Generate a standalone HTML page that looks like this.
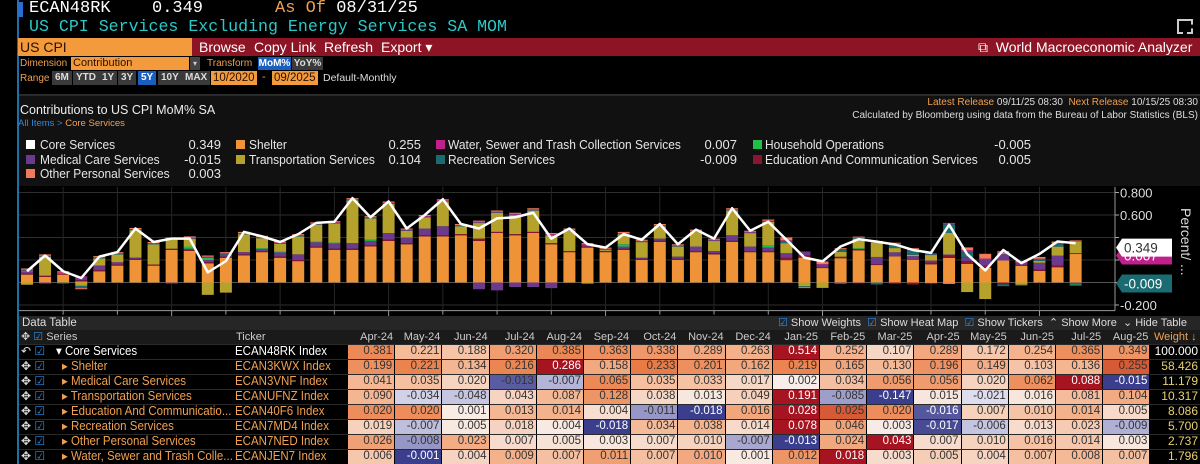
<!DOCTYPE html>
<html><head><meta charset="utf-8">
<style>
*{margin:0;padding:0;box-sizing:border-box}
body{width:1200px;height:464px;background:#000;overflow:hidden;position:relative;font-family:"Liberation Sans",sans-serif;color:#ddd}
.a{position:absolute;white-space:nowrap}
.mono{font-family:"Liberation Mono",monospace}
.btn{position:absolute;top:38px;height:18px;background:#8c1424;color:#fff;font-size:14px;line-height:18px;padding:0 4px}
.sm{font-size:10px;line-height:13px}
.rb{position:absolute;top:71px;height:14px;background:#3a3a3a;color:#ddd;font-size:10px;line-height:14px;padding:0 3px;font-weight:bold}
.lg{position:absolute;font-size:13px;line-height:15px;color:#e6e6e6}
.nar{transform:scaleX(0.92);transform-origin:left center}
.sq{position:absolute;width:9px;height:9px}
</style></head><body>
<div class="a" style="left:17px;top:0;width:2px;height:464px;background:#1d6fa8"></div>
<div class="a" style="left:17px;top:2px;width:6px;height:15px;background:#2a6fd0"></div>
<div class="a mono" style="left:29px;top:-1px;font-size:17px;color:#fff">ECAN48RK</div>
<div class="a mono" style="left:152px;top:-1px;font-size:17px;color:#fff">0.349</div>
<div class="a mono" style="left:275px;top:-1px;font-size:17px;color:#f0a050">As Of <span style="color:#fff">08/31/25</span></div>
<div class="a mono" style="left:29px;top:17px;font-size:16.6px;color:#2cc8c8">US CPI Services Excluding Energy Services SA MOM</div>
<div class="a" style="left:1177px;top:19px;width:16px;height:15px;border:2px solid #ccc;border-right-style:dashed;border-bottom-style:dashed"></div>

<div class="a" style="left:192px;top:38px;width:1008px;height:18px;background:#8c1424"></div>
<div class="a" style="left:18px;top:38px;width:174px;height:18px;background:#f29a3c;color:#2a1000;font-size:14px;line-height:18px;padding-left:2px">US CPI</div>
<div class="btn" style="left:195px">Browse</div>
<div class="btn" style="left:250px">Copy Link</div>
<div class="btn" style="left:320px">Refresh</div>
<div class="btn" style="left:377px">Export ▾</div>
<div class="a" style="left:978px;top:38px;color:#fff;font-size:14px;line-height:18px">⧉&nbsp; World Macroeconomic Analyzer</div>

<div class="a sm" style="left:20px;top:57px;color:#f0a050">Dimension</div>
<div class="a sm" style="left:71px;top:57px;width:118px;height:13px;background:#f29a3c;color:#2a1000;padding-left:2px;font-size:11px">Contribution</div>
<div class="a sm" style="left:190px;top:57px;width:10px;height:13px;background:#444;color:#ccc;text-align:center;font-size:8px">▾</div>
<div class="a sm" style="left:207px;top:57px;color:#f0a050">Transform</div>
<div class="a sm" style="left:258px;top:57px;width:33px;height:13px;background:#1a5fc0;color:#fff;text-align:center;font-weight:bold">MoM%</div>
<div class="a sm" style="left:292px;top:57px;width:31px;height:13px;background:#3a3a3a;color:#ddd;text-align:center;font-weight:bold">YoY%</div>

<div class="a sm" style="left:20px;top:72px;color:#f0a050">Range</div>
<div class="rb" style="left:52px">6M</div>
<div class="rb" style="left:73px">YTD</div>
<div class="rb" style="left:99px">1Y</div>
<div class="rb" style="left:118px">3Y</div>
<div class="rb" style="left:138px;background:#1a5fc0;color:#fff">5Y</div>
<div class="rb" style="left:158px">10Y</div>
<div class="rb" style="left:182px">MAX</div>
<div class="a" style="left:211px;top:71px;width:46px;height:14px;background:#f29a3c;color:#2a1000;font-size:11.5px;line-height:14px;padding-left:2px">10/2020</div>
<div class="a" style="left:262px;top:71px;color:#f0a050;font-size:11px">-</div>
<div class="a" style="left:272px;top:71px;width:46px;height:14px;background:#f29a3c;color:#2a1000;font-size:11.5px;line-height:14px;padding-left:2px">09/2025</div>
<div class="a" style="left:323px;top:72px;color:#ddd;font-size:10.5px">Default-Monthly</div>

<div class="a" style="left:19px;top:96px;width:1181px;height:90px;background:#111"></div>
<div class="a" style="left:19px;top:94px;width:1181px;height:2px;background:#2a2a2a"></div>
<div class="a" style="left:20px;top:103px;font-size:12.5px;color:#eee">Contributions to US CPI MoM% SA</div>
<div class="a" style="left:18px;top:118px;font-size:9.5px;color:#2a8ae0">All Items &gt; <span style="color:#f0a050">Core Services</span></div>
<div class="a" style="right:2px;top:97px;font-size:10px;color:#ddd"><span style="color:#f0a050">Latest Release</span> 09/11/25 08:30 &nbsp;<span style="color:#f0a050">Next Release</span> 10/15/25 08:30</div>
<div class="a" style="right:2px;top:110px;font-size:10px;color:#ddd">Calculated by Bloomberg using data from the Bureau of Labor Statistics (BLS)</div>

<div id="legend"></div>
<svg id="chart" class="a" style="left:0;top:186px" width="1200" height="130"></svg>
<div id="tbl"></div>

<script>
const months=["Oct-20","Nov-20","Dec-20","Jan-21","Feb-21","Mar-21","Apr-21","May-21","Jun-21","Jul-21","Aug-21","Sep-21","Oct-21","Nov-21","Dec-21","Jan-22","Feb-22","Mar-22","Apr-22","May-22","Jun-22","Jul-22","Aug-22","Sep-22","Oct-22","Nov-22","Dec-22","Jan-23","Feb-23","Mar-23","Apr-23","May-23","Jun-23","Jul-23","Aug-23","Sep-23","Oct-23","Nov-23","Dec-23","Jan-24","Feb-24","Mar-24","Apr-24","May-24","Jun-24","Jul-24","Aug-24","Sep-24","Oct-24","Nov-24","Dec-24","Jan-25","Feb-25","Mar-25","Apr-25","May-25","Jun-25","Jul-25","Aug-25"];
const core=[0.10,0.24,0.10,0.04,0.23,0.27,0.48,0.36,0.39,0.39,0.09,0.19,0.45,0.41,0.36,0.43,0.53,0.54,0.75,0.58,0.72,0.48,0.60,0.74,0.52,0.48,0.57,0.58,0.62,0.39,0.48,0.34,0.31,0.43,0.38,0.52,0.34,0.47,0.39,0.66,0.46,0.54,0.381,0.221,0.188,0.320,0.385,0.363,0.338,0.289,0.263,0.514,0.252,0.107,0.289,0.172,0.254,0.365,0.349];
const shelter=[0.07,0.05,0.07,0.01,0.10,0.15,0.20,0.15,0.29,0.28,0.17,0.22,0.24,0.27,0.22,0.19,0.31,0.29,0.29,0.32,0.37,0.34,0.41,0.41,0.42,0.37,0.44,0.42,0.44,0.34,0.27,0.31,0.27,0.29,0.20,0.36,0.20,0.27,0.25,0.36,0.27,0.27,0.199,0.221,0.134,0.216,0.286,0.158,0.233,0.201,0.162,0.219,0.165,0.130,0.196,0.149,0.103,0.136,0.255];
const medical=[0.02,-0.01,0.00,0.03,0.04,0.02,0.01,0.00,-0.01,0.01,0.02,0.02,0.02,0.02,0.04,0.05,0.04,0.05,0.05,0.04,0.06,0.05,0.06,0.08,0.00,-0.06,-0.07,-0.04,-0.04,-0.05,0.00,0.01,0.00,0.02,0.01,0.02,0.02,0.04,0.02,0.05,0.04,0.03,0.041,0.035,0.020,-0.013,-0.007,0.065,0.035,0.033,0.017,0.002,0.034,0.056,0.056,0.020,0.062,0.088,-0.015];
const transport=[-0.02,0.17,0.00,-0.03,0.06,0.07,0.24,0.18,0.08,0.07,-0.11,-0.09,0.16,0.09,0.07,0.16,0.15,0.17,0.38,0.19,0.26,0.06,0.10,0.22,0.07,0.14,0.17,0.17,0.19,0.07,0.18,-0.01,0.01,0.09,0.14,0.11,0.09,0.13,0.09,0.22,0.12,0.21,0.090,-0.034,-0.048,0.043,0.087,0.128,0.038,0.013,0.049,0.191,-0.085,-0.147,0.015,-0.021,0.016,0.081,0.104];
const education=[0.01,0.01,0.01,0.01,0.01,0.01,0.01,0.01,0.01,0.01,0.01,0.01,0.01,0.01,0.01,0.01,0.01,0.01,0.01,0.01,0.01,0.01,0.01,0.01,0.01,0.02,0.01,0.01,0.01,0.01,0.01,0.01,0.01,0.01,0.01,0.01,0.01,0.01,0.01,0.01,0.01,0.01,0.020,0.020,0.001,0.013,0.014,0.004,-0.011,-0.018,0.016,0.028,0.025,0.020,-0.016,0.007,0.010,0.014,0.005];
const recreation=[0.005,0.005,-0.01,-0.02,0.005,0.005,0.005,0.005,0.005,0.005,0.005,0.005,0.005,0.005,0.005,0.005,0.005,0.005,0.005,0.005,0.005,0.005,0.005,0.005,0.005,0.005,0.005,0.005,0.005,0.005,0.005,0.005,0.005,0.005,0.005,0.005,0.005,0.005,0.005,0.005,0.005,0.005,0.019,-0.007,0.005,0.018,0.004,-0.018,0.034,0.038,0.014,0.078,0.046,0.003,-0.017,-0.006,0.013,0.023,-0.009];
const otherPersonal=[0.01,0.01,0.01,-0.01,0.01,0.01,0.01,0.01,0.01,0.01,0.01,0.01,0.01,0.01,0.01,0.01,0.01,0.01,0.01,0.01,0.01,0.01,0.01,0.01,0.01,0.01,0.01,0.01,0.01,0.01,0.01,0.01,0.01,0.01,0.01,0.01,0.01,0.01,0.01,0.01,0.01,0.01,0.026,-0.008,0.023,0.007,0.005,0.003,0.007,0.010,-0.007,-0.013,0.024,0.043,0.007,0.010,0.016,0.014,0.003];
const water=[0.005,0.005,0.005,0.005,0.005,0.005,0.005,0.005,0.005,0.005,0.005,0.005,0.005,0.005,0.005,0.005,0.005,0.005,0.005,0.005,0.005,0.005,0.005,0.005,0.005,0.005,0.005,0.005,0.005,0.005,0.005,0.005,0.005,0.005,0.005,0.005,0.005,0.005,0.005,0.005,0.005,0.005,0.006,-0.001,0.004,0.009,0.007,0.011,0.007,0.010,0.001,0.012,0.018,0.003,0.005,0.004,0.007,0.008,0.007];
const household=[0.005,0.0,0.005,0.0,0.005,0.0,0.005,0.0,0.0,0.02,0.02,0.0,0.0,0.005,0.005,0.0,0.005,0.005,0.0,0.01,0.0,0.0,0.0,0.0,0.0,0.0,0.0,0.0,0.0,0.0,0.0,0.0,0.0,0.02,0.0,0.0,0.0,0.0,0.0,0.0,0.0,0.02,0.0,0.0,0.0,0.0,0.005,0.0,0.0,0.0,0.0,0.0,0.0,0.0,0.0,0.0,0.0,0.0,-0.005];
const yTicks=[0.8,0.6,0.4,0.2,0,-0.2];
const yTickLabels=["0.800","0.600","","","","-0.200"];
const years=["2020","2021","2022","2023","2024","2025"];
const yearIdx=[0.7,8,20,32,44,56];

const NS="http://www.w3.org/2000/svg";
const svg=document.getElementById('chart');
const OY=186;
function xs(i){return 27+i*18.08;}
function ys(v){return 282.5-OY-v*112.5;}
function mk(tag,attrs,parent){const e=document.createElementNS(NS,tag);for(const k in attrs)e.setAttribute(k,attrs[k]);(parent||svg).appendChild(e);return e;}
yTicks.forEach((t,k)=>{
  const gl=mk('line',{x1:19,x2:1115,y1:ys(t),y2:ys(t),stroke:t===0?'#555':'#2e2e2e','stroke-width':1});
  
  
  mk('line',{x1:1115,x2:1119,y1:ys(t),y2:ys(t),stroke:'#aaa'});
  if(yTickLabels[k]){const tx=mk('text',{x:1120,y:ys(t)+5,fill:'#ddd','font-size':13,'font-family':'Liberation Sans'});tx.textContent=yTickLabels[k];
  
  }
});
for(let i=2;i<months.length;i+=3){
  const vl=mk('line',{x1:xs(i),x2:xs(i),y1:ys(0.85),y2:ys(-0.25),stroke:'#262626'});
  
  
  const isY=yearIdx.indexOf(i)>=0;
  mk('line',{x1:xs(i),x2:xs(i),y1:ys(-0.25),y2:ys(-0.25)+(isY?8:4),stroke:'#999'});
}
mk('line',{x1:19,x2:1115,y1:ys(-0.25),y2:ys(-0.25),stroke:'#999'});
mk('line',{x1:1115,x2:1115,y1:ys(0.85),y2:ys(-0.25),stroke:'#999'});
years.forEach((y,k)=>{const tx=mk('text',{x:xs(yearIdx[k]),y:ys(-0.25)+18,fill:'#ccc','font-size':13,'text-anchor':'middle','font-family':'Liberation Sans'});tx.textContent=y;
  
  });
const series=[[shelter,'#ee9338','shelter'],[education,'#8a1530','education'],[medical,'#6b3a8c','medical-care'],[household,'#1fc04a','household-operations'],[transport,'#b4a22c','transportation'],[recreation,'#1a6b72','recreation'],[water,'#c0208c','water-sewer-trash'],[otherPersonal,'#f07a5a','other-personal']];
months.forEach((m,i)=>{
  let pos=0,neg=0;
  series.forEach(s=>{
    const v=s[0][i];if(!v)return;
    let y0,y1;
    if(v>0){y0=ys(pos+v);y1=ys(pos);pos+=v;}else{y0=ys(neg);y1=ys(neg+v);neg+=v;}
    const r=mk('rect',{x:xs(i)-6,y:y0,width:12,height:Math.max(0.8,y1-y0),fill:s[1]});
    
    
  });
});
const pts=core.map((v,i)=>xs(i)+','+ys(v)).join(' ');
const line=mk('polyline',{points:pts,fill:'none',stroke:'#fff','stroke-width':2.5,'stroke-linejoin':'round'});


function tag(v,bg,fg,label,name){
  const y=ys(v);
  const p=mk('path',{d:`M1116 ${y} l6 -9 h50 v18 h-50 z`,fill:bg});
  
  
  const t=mk('text',{x:1124,y:y+5,fill:fg,'font-size':13.5,'font-family':'Liberation Sans'});t.textContent=label;
}
tag(0.24,'#c0208c','#fff','0.007','water-value-tag');
tag(0.31,'#fff','#333','0.349','core-value-tag');
tag(-0.009,'#1a6b72','#fff','-0.009','recreation-value-tag');
const pt=mk('text',{transform:'translate(1181,22) rotate(90)',fill:'#ddd','font-size':14,'font-family':'Liberation Sans'});pt.textContent='Percent/ ...';



const legNames=["Core Services","Shelter","Water, Sewer and Trash Collection Services","Household Operations","Medical Care Services","Transportation Services","Recreation Services","Education And Communication Services","Other Personal Services"];
const legVals=["0.349","0.255","0.007","-0.005","-0.015","0.104","-0.009","0.005","0.003"];
const legColors=["#fff","#ee9338","#c0208c","#1fc04a","#6b3a8c","#b4a22c","#1a6b72","#8a1530","#f07a5a"];
const colX=[[26,40,221],[236,249,421],[436,448,737],[753,765,1031]];
const L=document.getElementById('legend');
legNames.forEach((n,k)=>{
  const c=colX[k%4],r=Math.floor(k/4),y=137+r*14.7;
  const d=document.createElement('div');
  
  
  d.innerHTML=`<div class="sq" style="left:${c[0]}px;top:${y+3}px;background:${legColors[k]}"></div><div class="lg nar" style="left:${c[1]}px;top:${y}px">${n}</div><div class="lg" style="left:${c[2]-60}px;width:60px;text-align:right;top:${y}px">${legVals[k]}</div>`;
  L.appendChild(d);
});

const tMonths=months.slice(42);
const rowNames=["Core Services","Shelter","Medical Care Services","Transportation Services","Education And Communicatio...","Recreation Services","Other Personal Services","Water, Sewer and Trash Colle..."];
const tickers=["ECAN48RK Index","ECAN3KWX Index","ECAN3VNF Index","ECANUFNZ Index","ECAN40F6 Index","ECAN7MD4 Index","ECAN7NED Index","ECANJEN7 Index"];
const weights=["100.000","58.426","11.179","10.317","8.086","5.700","2.737","1.796"];
const rowData=[core,shelter,medical,transport,education,recreation,otherPersonal,water].map(a=>a.slice(42));
function lerp(a,b,t){return a.map((x,i)=>Math.round(x+(b[i]-x)*t));}
function heat(v,mx,mn){
  if(v>=0){const t=mx>0?v/mx:0;
    if(t<0.5)return lerp([248,240,236],[244,178,140],t/0.5);
    if(t<0.85)return lerp([244,178,140],[232,118,62],(t-0.5)/0.35);
    return lerp([232,118,62],[165,20,32],(t-0.85)/0.15);}
  const t=mn<0?v/mn:0;
  if(t<0.5)return lerp([240,238,246],[176,176,214],t/0.5);
  return lerp([176,176,214],[58,62,140],(t-0.5)/0.5);
}
const T=document.getElementById('tbl');
let h=`<div class="a" style="left:19px;top:316px;width:1181px;height:14px;background:#262626"></div>
<div class="a" style="left:22px;top:316px;font-size:11.5px;color:#ddd;line-height:14px">Data Table</div>
<div class="a" style="left:778px;top:316px;font-size:11px;color:#ddd;line-height:14px"><span style="color:#2a8ae0">☑</span> Show Weights &nbsp;<span style="color:#2a8ae0">☑</span> Show Heat Map &nbsp;<span style="color:#2a8ae0">☑</span> Show Tickers &nbsp;⌃ Show More &nbsp;⌄ Hide Table</div>
<div class="a" style="left:19px;top:330px;width:1181px;height:14px;background:#1a1a1a"></div>
<div class="a" style="left:21px;top:330px;font-size:11px;color:#ccc;line-height:14px">✥ <span style="color:#2a8ae0">☑</span> Series</div>
<div class="a" style="left:236px;top:330px;font-size:11px;color:#ccc;line-height:14px">Ticker</div>
<div class="a" style="left:1154px;top:330px;font-size:11px;color:#f0a050;line-height:14px">Weight ↓</div>`;
const cx0=348,cw=47.2;
tMonths.forEach((m,j)=>{h+=`<div class="a" style="left:${cx0+j*cw}px;top:330px;width:${cw-2}px;text-align:right;font-size:11px;color:#ccc;line-height:14px">${m}</div>`;});
rowData.forEach((arr,r)=>{
  const y=344+r*15;
  const mx=Math.max(...arr),mn=Math.min(...arr);
  h+=`<div class="a" style="left:19px;top:${y}px;width:1181px;height:15px;border-top:1px solid #2a2a2a"></div>`;
  h+=`<div class="a" style="left:21px;top:${y}px;font-size:12px;color:#ddd;line-height:15px">${r===0?'↶':'✥'} <span style="color:#2a8ae0">☑</span></div>`;
  h+=`<div class="a nar" style="left:${r===0?56:62}px;top:${y}px;font-size:12.5px;color:${r===0?'#fff':'#f0a050'};line-height:15px">${r===0?'▾ ':'▸ '}${rowNames[r]}</div>`;
  h+=`<div class="a nar" style="left:235px;top:${y}px;font-size:12.5px;color:${r===0?'#fff':'#f0a050'};line-height:15px">${tickers[r]}</div>`;
  arr.forEach((v,j)=>{const c=heat(v,mx,mn);const dark=(c[0]+c[1]+c[2])<330;
    h+=`<div class="a" style="left:${cx0+j*cw}px;top:${y+1}px;width:${cw-1}px;height:14px;background:rgb(${c})"></div><div class="a" style="left:${cx0+j*cw}px;top:${y}px;width:${cw-3}px;text-align:right;font-size:11.5px;line-height:15px;color:${dark?'#fff':'#333'}">${v.toFixed(3)}</div>`;});
  h+=`<div class="a" style="left:1152px;top:${y}px;width:46px;text-align:right;font-size:12px;line-height:15px;color:${r===0?'#fff':'#e8d070'}">${weights[r]}</div>`;
});
T.innerHTML=h;
</script>
</body></html>
